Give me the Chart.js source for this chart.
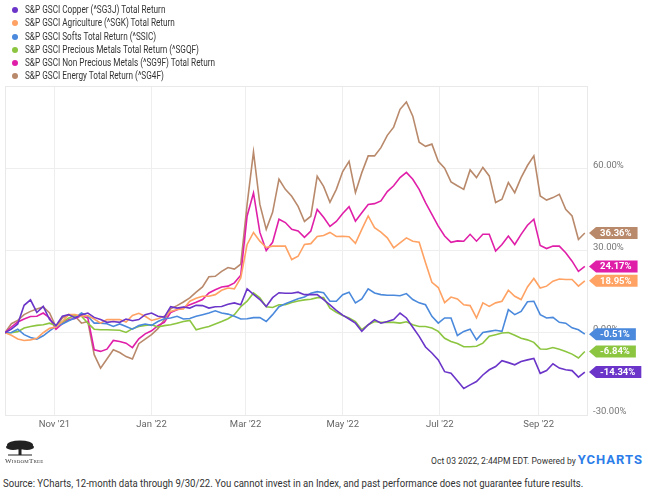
<!DOCTYPE html>
<html>
<head>
<meta charset="utf-8">
<script src="https://cdn.jsdelivr.net/npm/chart.js@4.4.0/dist/chart.umd.min.js"></script>
<style>
    body { margin: 0; background: #fff; font-family: Roboto, "Noto Sans", sans-serif; }
    #wrap { position: relative; width: 648px; height: 494px; overflow: hidden; }
    #chart-box { position: absolute; left: 0; top: 0; width: 648px; height: 440px; }
    #legend { position: absolute; left: 0; top: 3px; }
    .legend-row { position: relative; height: 13.3px; line-height: 13.3px; padding-left: 25px; font-size: 10px; color: #333; white-space: nowrap; }
    .legend-row .dot { position: absolute; left: 12px; top: 4px; width: 6px; height: 6px; border-radius: 50%; }
    .legend-row .name { display: inline-block; transform: scaleX(0.82); transform-origin: left center; }
    #logo { position: absolute; left: 4px; top: 439px; }
    #logo-text { position: absolute; left: 5px; top: 457px; font-family: "Liberation Serif", serif; font-size: 7px; color: #333; font-variant: small-caps; letter-spacing: 0.2px; }
    #stamp { position: absolute; right: 5px; top: 452px; font-size: 9.5px; color: #333; white-space: nowrap; }
    #stamp .when { display: inline-block; transform: scaleX(0.9); transform-origin: right center; }
    #stamp b { color: #2b7de9; font-size: 13px; letter-spacing: 1px; font-weight: 700; }
    #source { position: absolute; left: 3px; top: 477px; font-size: 11px; color: #333; white-space: nowrap; transform: scaleX(0.87); transform-origin: left center; }
</style>
</head>
<body>
<div id="wrap">
    <div id="chart-box"><canvas id="commodity-chart"></canvas></div>
    <div id="legend"></div>
    <svg id="logo" width="32" height="18" viewBox="0 0 32 18">
        <ellipse cx="16" cy="6" rx="13" ry="4.5" fill="#222"/>
        <ellipse cx="9" cy="8" rx="7" ry="3" fill="#222"/>
        <ellipse cx="23" cy="8" rx="7" ry="3" fill="#222"/>
        <rect x="14.5" y="8" width="3" height="8" fill="#222"/>
        <rect x="4" y="15.5" width="24" height="1" fill="#222"/>
    </svg>
    <div id="logo-text">WisdomTree</div>
    <div id="stamp"><span class="when">Oct 03 2022, 2:44PM EDT. Powered by</span> <b>YCHARTS</b></div>
    <div id="source">Source: YCharts, 12-month data through 9/30/22. You cannot invest in an Index, and past performance does not guarantee future results.</div>
</div>
<script>
// sampling grid: days since Oct 1 2021, one sample every 4 days
const sampleDays = Array.from({ length: 92 }, (_, i) => i * 4);

const monthTicks = [31, 92, 151, 212, 273, 335];
const monthLabels = ["Nov '21", "Jan '22", "Mar '22", "May '22", "Jul '22", "Sep '22"];

const seriesNames = [
    "S&P GSCI Copper (^SG3J) Total Return",
    "S&P GSCI Agriculture (^SGK) Total Return",
    "S&P GSCI Softs Total Return (^SSIC)",
    "S&P GSCI Precious Metals Total Return (^SGQF)",
    "S&P GSCI Non Precious Metals (^SG9F) Total Return",
    "S&P GSCI Energy Total Return (^SG4F)",
];
const seriesColors = ["#6a35c8", "#ffa263", "#4a89dc", "#8cc540", "#e01fa9", "#b9896b"];

const copper = [
    0, 1.3, 3.2, 10.0, 12.0, 7.4, 9.6, 4.8, 2.6, 6.0, 6.6, 5.4, 6.6, 7.2, 5.6, 4.8, 3.8, 4.1, 3.8, 5.0,
    4.4, 4.8, 6.6, 7.2, 6.0, 5.7, 9.5, 9.0, 9.4, 9.0, 10.0, 9.9, 9.0, 9.5, 9.6, 10.4, 10.9, 10.2, 16.0, 14.0,
    12.1, 9.6, 12.8, 14.6, 14.4, 14.4, 14.8, 13.9, 13.9, 13.9, 12.1, 10.2, 8.2, 6.4, 5.0, 3.5, 0.5, 2.9, 4.8, 3.5,
    4.1, 4.8, 7.2, 5.4, 2.0, -1.3, -5.2, -7.4, -9.9, -14.2, -14.8, -17.5, -20.3, -19.0, -17.8, -15.4, -13.5, -12.3, -10.2, -10.9,
    -11.7, -10.5, -9.9, -9.4, -14.8, -13.8, -11.3, -12.9, -13.5, -13.8, -16.2, -14.34,
];
const agriculture = [
    0, -0.9, -2.3, -2.8, -2.6, -2.0, 0, 1.6, 2.1, 4.1, 6.6, 6.6, 6.0, 6.3, 5.0, 3.5, 4.8, 4.8, 4.8, 3.9,
    6.3, 7.1, 6.0, 4.5, 5.1, 6.0, 7.8, 8.5, 8.7, 11.5, 12.6, 13.3, 13.3, 13.9, 15.5, 16.3, 16.0, 20.0, 32.2, 36.6,
    33.4, 31.1, 31.6, 31.6, 31.6, 26.7, 27.9, 32.2, 32.5, 35.1, 35.5, 36.6, 35.1, 35.2, 35.0, 32.6, 37.7, 42.6, 38.3, 36.7,
    34.6, 31.0, 32.8, 34.6, 33.4, 33.0, 25.5, 18.4, 16.5, 11.0, 13.0, 12.3, 10.2, 9.9, 5.4, 10.9, 9.6, 10.9, 11.5, 15.5,
    13.3, 12.1, 16.7, 19.8, 16.3, 17.0, 18.8, 19.6, 19.4, 19.4, 17.0, 18.95,
];
const softs = [
    0, 0.1, 1.3, -0.7, -1.7, -2.3, -1.1, 0.7, 2.3, 3.2, 4.4, 5.4, 7.2, 6.0, 3.5, 3.5, 3.3, 2.3, 3.2, 2.3,
    1.3, 2.6, 3.2, 2.7, 4.1, 5.1, 5.4, 6.0, 5.0, 5.2, 6.0, 6.6, 7.2, 8.0, 7.2, 6.8, 6.0, 5.0, 5.1, 5.5,
    5.5, 4.1, 6.6, 9.5, 10.6, 11.5, 12.4, 13.0, 14.4, 15.0, 14.6, 11.5, 11.5, 13.9, 14.8, 10.9, 12.3, 16.0, 14.5, 13.9,
    13.7, 13.7, 13.5, 14.3, 12.1, 10.9, 10.2, 6.0, 3.5, 5.4, 5.4, -1.0, 0.5, 1.3, -2.6, 0.1, 0.5, 0.9, 0.5, 8.4,
    6.6, 7.8, 11.3, 11.5, 6.6, 5.4, 5.6, 3.8, 3.5, 1.8, 1.1, -0.51,
];
const preciousMetals = [
    0, 0, 0.4, 1.7, 2.3, 2.7, 2.9, 3.5, 2.6, 3.9, 5.4, 6.3, 6.0, 3.5, 1.3, 1.1, 1.1, 1.0, 0.9, 0.1,
    1.5, 2.3, 2.7, 2.9, 2.1, 2.6, 2.9, 3.5, 4.1, 4.5, 1.1, 1.7, 2.3, 3.2, 4.1, 5.1, 6.6, 9.5, 11.5, 14.5,
    12.7, 9.5, 9.2, 10.2, 10.2, 11.0, 11.6, 12.0, 12.2, 12.8, 12.8, 9.0, 7.5, 6.3, 5.4, 4.1, 1.1, 2.9, 4.1, 3.8,
    3.8, 3.8, 3.5, 4.0, 2.9, 2.3, 2.3, 1.7, 0.5, -2.0, -3.2, -3.9, -5.1, -5.1, -4.9, -3.8, -1.3, -0.7, -0.1, 0.1,
    -0.9, -2.0, -2.6, -3.5, -5.9, -6.0, -5.4, -6.0, -6.8, -7.8, -9.2, -6.84,
];
const nonPreciousMetals = [
    0, 2.1, 3.9, 5.0, 5.9, 6.0, 7.2, 5.4, 1.3, 3.3, 4.8, 5.2, 6.2, 5.4, -6.2, -6.8, -6.0, -2.8, -3.2, -3.8,
    -5.4, -2.2, -0.4, 0.7, 2.6, 3.8, 7.4, 8.4, 9.2, 10.2, 11.1, 12.1, 14.5, 15.7, 16.7, 17.0, 18.2, 21.0, 42.6, 51.0,
    36.6, 30.0, 33.0, 41.4, 40.2, 37.7, 37.1, 34.8, 37.1, 45.0, 42.1, 38.8, 40.6, 43.5, 46.0, 40.7, 43.8, 46.8, 47.1, 48.1,
    51.5, 53.6, 56.6, 58.5, 56.0, 52.3, 47.5, 43.2, 38.9, 35.3, 33.0, 33.5, 33.4, 35.9, 33.4, 35.9, 35.9, 29.8, 32.2, 35.3,
    32.2, 35.9, 39.2, 41.4, 31.8, 30.7, 31.6, 31.6, 29.2, 26.1, 22.4, 24.17,
];
const energy = [
    0, 3.3, 4.5, 6.6, 7.8, 8.7, 9.4, 7.2, 2.1, 5.4, 6.6, 6.0, 3.5, 4.1, -8.0, -12.9, -9.6, -6.2, -7.2, -8.7,
    -9.6, -4.0, -2.3, -0.7, 1.5, 4.8, 8.7, 9.9, 11.2, 12.7, 14.8, 16.7, 20.4, 20.6, 22.4, 23.8, 23.2, 25.0, 46.8, 66.0,
    46.8, 37.7, 43.9, 56.0, 52.3, 49.8, 46.1, 40.6, 42.5, 57.1, 53.4, 47.6, 52.3, 58.8, 62.5, 51.1, 58.4, 64.5, 64.5, 67.5,
    72.0, 75.0, 81.5, 84.2, 79.0, 69.5, 68.0, 68.8, 62.5, 60.0, 55.0, 53.6, 52.3, 59.4, 56.6, 60.3, 57.2, 47.5, 48.7, 54.8,
    51.1, 56.6, 61.0, 64.5, 49.9, 48.4, 49.3, 50.5, 45.0, 42.6, 34.0, 36.36,
];

const allSeries = [copper, agriculture, softs, preciousMetals, nonPreciousMetals, energy];

// html legend, one row per series
const legendBox = document.getElementById("legend");
seriesNames.forEach((name, i) => {
    const row = document.createElement("div");
    row.className = "legend-row";
    const dot = document.createElement("span");
    dot.className = "dot";
    dot.style.background = seriesColors[i];
    const label = document.createElement("span");
    label.className = "name";
    label.textContent = name;
    row.appendChild(dot);
    row.appendChild(label);
    legendBox.appendChild(row);
});

// coloured value tags at the right end of each line
const endTags = {
    id: "endTags",
    afterDatasetsDraw(chart) {
        const ctx = chart.ctx;
        const yScale = chart.scales.y;
        const tipX = chart.chartArea.right + 1;
        ctx.save();
        ctx.font = "bold 9.5px Roboto, sans-serif";
        ctx.textBaseline = "middle";
        chart.data.datasets.forEach((ds) => {
            const last = ds.data[ds.data.length - 1];
            const y = yScale.getPixelForValue(last.y);
            const text = last.y.toFixed(2) + "%";
            const w = ctx.measureText(text).width + 10;
            const h = 12;
            ctx.fillStyle = ds.borderColor;
            ctx.beginPath();
            ctx.moveTo(tipX, y);
            ctx.lineTo(tipX + 7, y - h / 2);
            ctx.lineTo(tipX + 7 + w, y - h / 2);
            ctx.lineTo(tipX + 7 + w, y + h / 2);
            ctx.lineTo(tipX + 7, y + h / 2);
            ctx.closePath();
            ctx.fill();
            ctx.fillStyle = "#fff";
            ctx.fillText(text, tipX + 11, y + 0.5);
        });
        ctx.restore();
    },
};

// light frame round the plot area
const plotFrame = {
    id: "plotFrame",
    beforeDatasetsDraw(chart) {
        const { ctx, chartArea } = chart;
        ctx.save();
        ctx.strokeStyle = "#e9e9e9";
        ctx.lineWidth = 1;
        ctx.strokeRect(chartArea.left + 0.5, chartArea.top + 0.5, chartArea.width - 1, chartArea.height);
        ctx.restore();
    },
};

const chartCanvas = document.getElementById("commodity-chart");
const commodityChart = new Chart(chartCanvas, {
    type: "line",
    data: {
        datasets: allSeries.map((values, i) => ({
            label: seriesNames[i],
            data: values.map((v, k) => ({ x: sampleDays[k], y: v })),
            borderColor: seriesColors[i],
            backgroundColor: seriesColors[i],
            borderWidth: 1.6,
            pointRadius: 0,
            tension: 0,
        })),
    },
    options: {
        responsive: true,
        maintainAspectRatio: false,
        animation: false,
        layout: { padding: { left: 5, top: 86, right: 0, bottom: 0 } },
        scales: {
            x: {
                type: "linear",
                min: 0,
                max: 366,
                afterBuildTicks: (scale) => {
                    scale.ticks = monthTicks.map((v) => ({ value: v }));
                },
                afterFit: (scale) => {
                    scale.height = 25;
                },
                ticks: {
                    callback: (value) => monthLabels[monthTicks.indexOf(value)],
                    color: "#666",
                    font: { family: "Roboto", size: 9.5 },
                    maxRotation: 0,
                    padding: 4,
                },
                grid: { color: "#eeeeee", drawTicks: false },
                border: { display: false },
            },
            y: {
                position: "right",
                min: -30,
                max: 90,
                afterFit: (scale) => {
                    scale.width = 60;
                },
                ticks: {
                    stepSize: 30,
                    callback: (value) => (value === 90 ? "" : value.toFixed(2) + "%"),
                    color: "#777",
                    font: { family: "Roboto", size: 9.5 },
                    padding: 5,
                    labelOffset: -3,
                },
                grid: { color: "#eeeeee", drawTicks: false },
                border: { display: false },
            },
        },
        plugins: {
            legend: { display: false },
            tooltip: { enabled: false },
        },
    },
    plugins: [plotFrame, endTags],
});
</script>
</body>
</html>
